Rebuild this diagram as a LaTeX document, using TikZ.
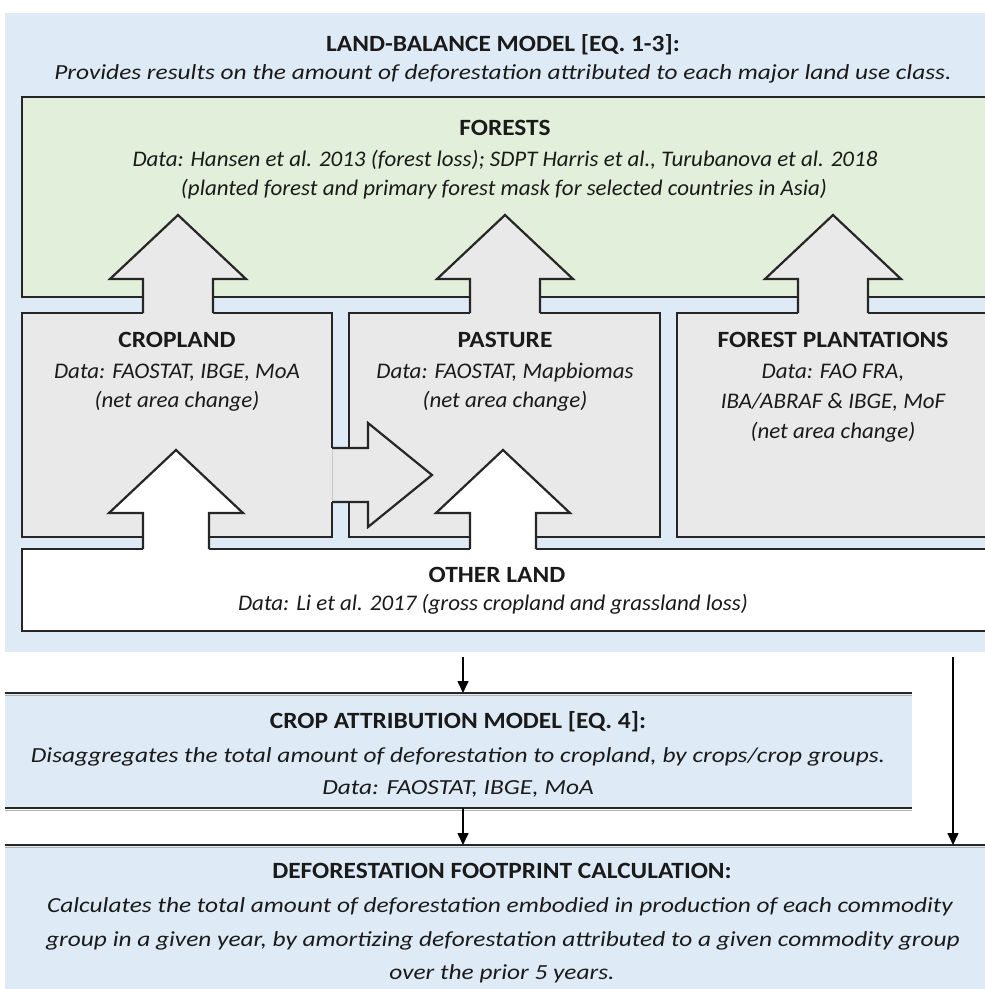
\documentclass[tikz,border=0pt]{standalone}
\usepackage{fontspec}
\setmainfont{Carlito}
\newfontfamily\hdfont[FakeStretch=1.09]{Carlito}
\newfontfamily\blueitfont[FakeStretch=1.18]{Carlito}
\newfontfamily\boxitfont[FakeStretch=1.03]{Carlito}
\usetikzlibrary{arrows.meta}
\definecolor{bgblue}{HTML}{DEEAF6}
\definecolor{forestgreen}{HTML}{E2EFDA}
\definecolor{boxgray}{HTML}{E9E9E9}
\definecolor{linec}{HTML}{262626}
\definecolor{textc}{HTML}{1A1A1A}
\tikzset{
  lbl/.style={anchor=base, inner sep=0pt, text=textc},
  hd/.style={lbl, font=\hdfont\bfseries\fontsize{23.3}{28}\selectfont},
  bit/.style={lbl, font=\blueitfont\itshape\fontsize{21.5}{28}\selectfont},
  xit/.style={lbl, font=\boxitfont\itshape\fontsize{22.3}{28}\selectfont},
  bord/.style={draw=linec, line width=2.2pt, line join=miter},
  conn/.style={draw=black, line width=1.5pt, -{Triangle[width=11pt,length=12pt]}},
  blk/.style={inner sep=0pt, outer sep=0pt, anchor=north west}
}
\begin{document}
\begin{tikzpicture}[x=1pt,y=-1pt]
\useasboundingbox (0,0) rectangle (985,989);
\clip (0,0) rectangle (985,989);
% background of land-balance model
\node[blk, fill=bgblue, minimum width=980pt, minimum height=639pt] (lbm) at (5,13) {};
% forests
\draw[bord, fill=forestgreen] (22,97) rectangle (1000,297);
% land-use boxes
\draw[bord, fill=boxgray] (22,313) rectangle (332,537);
\draw[bord, fill=boxgray] (349,313) rectangle (660,537);
\draw[bord, fill=boxgray] (677,313) rectangle (1000,537);
% other land
\draw[bord, fill=white] (22,549) rectangle (1000,631);
% gray block arrows up into forests
\foreach \c in {178,505,833}{
  \fill[boxgray] (\c-35,314.8) -- (\c-35,279) -- (\c-68,279) -- (\c,215) -- (\c+68,279) -- (\c+35,279) -- (\c+35,314.8) -- cycle;
  \draw[bord] (\c-35,313) -- (\c-35,279) -- (\c-68,279) -- (\c,215) -- (\c+68,279) -- (\c+35,279) -- (\c+35,313);
}
% gray block arrow cropland -> pasture
\fill[boxgray] (330.5,448) -- (368,448) -- (368,423) -- (432,475) -- (368,527) -- (368,502) -- (330.5,502) -- cycle;
\draw[bord] (332,448) -- (368,448) -- (368,423) -- (432,475) -- (368,527) -- (368,502) -- (332,502);
\draw[draw=black!22, line width=1pt] (332,449.5) -- (332,500.5);
% white block arrows from other land
\foreach \c in {176,503}{
  \fill[white] (\c-33,550.8) -- (\c-33,513) -- (\c-67,513) -- (\c,450) -- (\c+67,513) -- (\c+33,513) -- (\c+33,550.8) -- cycle;
  \draw[bord] (\c-33,549) -- (\c-33,513) -- (\c-67,513) -- (\c,450) -- (\c+67,513) -- (\c+33,513) -- (\c+33,549);
}
% texts of land-balance part
\node[hd]  (lbmtitle) at (503,51) {LAND-BALANCE MODEL [EQ. 1-3]:};
\node[bit] (lbmsub)   at (503,79) {Provides results on the amount of deforestation attributed to each major land use class.};
\node[hd]  (forests)  at (505,135) {FORESTS};
\node[xit] (forests1) at (505,166) {Data: Hansen et al. 2013 (forest loss); SDPT Harris et al., Turubanova et al. 2018};
\node[xit] (forests2) at (504,195) {(planted forest and primary forest mask for selected countries in Asia)};
\node[hd]  (cropland)  at (177,347) {CROPLAND};
\node[xit] (cropland1) at (177,378) {Data: FAOSTAT, IBGE, MoA};
\node[xit] (cropland2) at (177,407) {(net area change)};
\node[hd]  (pasture)  at (505,347) {PASTURE};
\node[xit] (pasture1) at (505,378) {Data: FAOSTAT, Mapbiomas};
\node[xit] (pasture2) at (505,407) {(net area change)};
\node[hd]  (plant)  at (833,347) {FOREST PLANTATIONS};
\node[xit] (plant1) at (833,378) {Data: FAO FRA,};
\node[xit] (plant2) at (833,408) {IBA/ABRAF \& IBGE, MoF};
\node[xit] (plant3) at (833,438) {(net area change)};
\node[hd]  (other)  at (497,582) {OTHER LAND};
\node[xit] (other1) at (493,610) {Data: Li et al. 2017 (gross cropland and grassland loss)};
% crop attribution model
\node[blk, fill=bgblue, minimum width=907pt, minimum height=115pt] (ca) at (5,693) {};
\draw[draw=black!30, line width=1.5pt] ([yshift=-2.5pt]ca.north west) -- ([yshift=-2.5pt]ca.north east);
\draw[draw=black!30, line width=1.5pt] ([yshift=-2.5pt]ca.south west) -- ([yshift=-2.5pt]ca.south east);
\draw[draw=linec, line width=2.5pt] (ca.north west) -- (ca.north east);
\draw[draw=linec, line width=2.5pt] (ca.south west) -- (ca.south east);
\node[hd]  (catitle) at (458,728) {CROP ATTRIBUTION MODEL [EQ. 4]:};
\node[bit] (ca1)     at (458,762) {Disaggregates the total amount of deforestation to cropland, by crops/crop groups.};
\node[bit] (ca2)     at (458,794) {Data: FAOSTAT, IBGE, MoA};
% deforestation footprint calculation
\node[blk, fill=bgblue, minimum width=990pt, minimum height=160pt] (dfc) at (5,845) {};
\draw[draw=black!30, line width=1.5pt] ([yshift=-2.5pt]dfc.north west) -- ([yshift=-2.5pt]dfc.north east);
\draw[draw=linec, line width=2.5pt] (dfc.north west) -- (dfc.north east);
\node[hd]  (dfctitle) at (502,878) {DEFORESTATION FOOTPRINT CALCULATION:};
\node[bit] (dfc1) at (500,912) {Calculates the total amount of deforestation embodied in production of each commodity};
\node[bit] (dfc2) at (503,946) {group in a given year, by amortizing deforestation attributed to a given commodity group};
\node[bit] (dfc3) at (502,979) {over the prior 5 years.};
% connectors
\coordinate (a1) at (463,657);
\coordinate (a2) at (953,657);
\draw[conn] (a1) -- (a1 |- ca.north);
\draw[conn] (a1 |- ca.south) -- (a1 |- dfc.north);
\draw[conn] (a2) -- (a2 |- dfc.north);
\end{tikzpicture}
\end{document}
